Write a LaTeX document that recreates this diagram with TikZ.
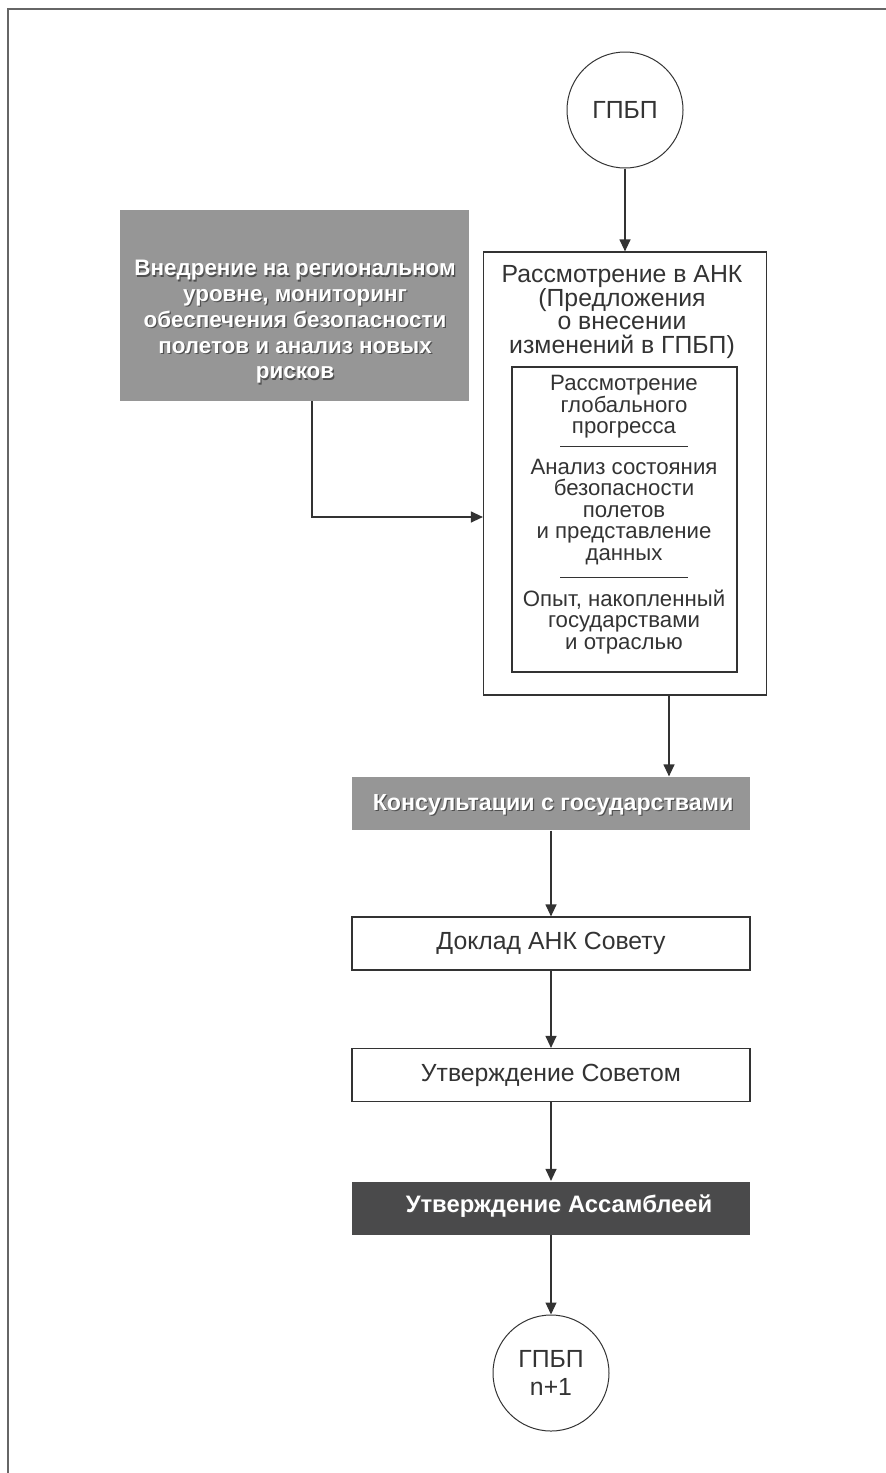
\documentclass[tikz,border=0pt]{standalone}
\usepackage{fontspec}
\setmainfont{Liberation Sans}
\usetikzlibrary{arrows.meta,calc}
\definecolor{inkgrey}{HTML}{333333}
\definecolor{panelgrey}{HTML}{969696}
\definecolor{darkpanel}{HTML}{4A4A4B}
\definecolor{shadegrey}{HTML}{505050}
\definecolor{framegrey}{HTML}{666666}

\tikzset{
  stage/.style={draw=inkgrey, line width=0.6pt, minimum width=199pt, minimum height=26.5pt, inner sep=0pt},
  ring/.style={circle, draw=inkgrey, line width=0.5pt, minimum size=58pt, inner sep=0pt,
    font=\fontsize{12.4}{14}\selectfont, text=inkgrey, align=center},
  txt/.style={font=\fontsize{12.4}{11.7}\selectfont, text=inkgrey, align=center},
  small/.style={font=\fontsize{11.1}{10.75}\selectfont, text=inkgrey, align=center},
  heavy/.style={font=\bfseries\fontsize{11.9}{12.85}\selectfont, align=center},
  flow/.style={draw=inkgrey, line width=0.6pt, -{Triangle[length=6pt,width=5.5pt]}},
}

% white text with a dark shadow, on a grey panel
\newcommand{\raised}[4]{%
  \node[heavy, #3, text=shadegrey] at ([shift={(1.3,1.3)}]#1) {#4};
  \node[heavy, #3, text=white] (#2) at (#1) {#4};}

\begin{document}
\begin{tikzpicture}[x=0.5pt, y=-0.5pt]
\useasboundingbox (0,0) rectangle (886,1473);
% frame of the page
\draw[framegrey, line width=0.8pt] (8,1490) -- (8,9) -- (900,9);

\node[ring] (gpbp) at (625,110) {ГПБП};

% review by the commission
\node[draw=inkgrey, line width=0.6pt, minimum width=141.5pt, minimum height=221.5pt, inner sep=0pt] (ank) at (625,473.5) {};
\node[txt] (ankttl) at (622,312) {Рассмотрение в АНК\\(Предложения\\о внесении\\изменений в ГПБП)};
\node[draw=inkgrey, line width=0.6pt, minimum width=112.5pt, minimum height=152.5pt, inner sep=0pt] (inner) at (624.5,519.5) {};
\node[small] (glob) at (624,407) {Рассмотрение\\глобального\\прогресса};
\node[small] (anal) at (624,512) {Анализ состояния\\безопасности\\полетов\\и представление\\данных};
\node[small] (exper) at (624,622) {Опыт, накопленный\\государствами\\и отраслью};
\draw[inkgrey, line width=0.5pt] (560,446) -- (688,446) (560,577) -- (688,577);

% regional implementation
\node[fill=panelgrey, minimum width=174.5pt, minimum height=95.5pt, inner sep=0pt] (impl) at (294.5,305.5) {};
\coordinate (implc) at (295,322);
\raised{implc}{impltxt}{font=\bfseries\fontsize{11.2}{12.85}\selectfont}{Внедрение на региональном\\уровне, мониторинг\\обеспечения безопасности\\полетов и анализ новых\\рисков}

% approval chain
\node[stage, fill=panelgrey, draw=none] (cons) at (551,803.5) {};
\coordinate (consc) at (553,805);
\raised{consc}{constxt}{font=\bfseries\fontsize{11.6}{12.85}\selectfont}{Консультации с государствами}
\node[stage, txt] (report) at (551,943.5) {Доклад АНК Совету};
\node[stage, txt] (council) at (551,1075) {Утверждение Советом};
\node[stage, fill=darkpanel, draw=none] (assembly) at (551,1208) {};
\coordinate (asmc) at (559,1206);
\raised{asmc}{asmtxt}{}{Утверждение Ассамблеей}
\node[ring] (next) at (551,1373) {ГПБП\\n+1};

% connectors
\coordinate (elbow) at (312,517);
\coordinate (drop) at (669,0);
\draw[flow] (gpbp) -- (ank);
\draw[flow] (elbow |- impl.south) -- (elbow) -- (elbow -| ank.west);
\draw[flow] (drop |- ank.south) -- (drop |- cons.north);
\draw[flow] (cons) -- (report);
\draw[flow] (report) -- (council);
\draw[flow] (council) -- (assembly);
\draw[flow] (assembly) -- (next);
\end{tikzpicture}
\end{document}
